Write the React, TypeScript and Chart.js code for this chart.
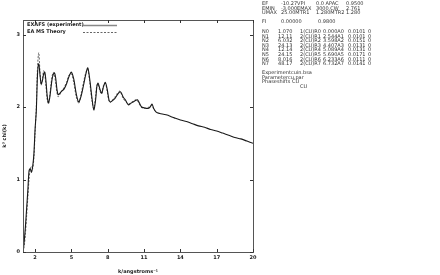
import React, { useEffect, useRef } from "react";
import { Chart, registerables } from "chart.js";

Chart.register(...registerables);

// ---- data ----
const kExp = [1.0, 1.1, 1.2, 1.3, 1.4, 1.5, 1.6, 1.7, 1.8, 1.9, 2.0, 2.1, 2.2, 2.3, 2.4, 2.5, 2.6, 2.7, 2.8, 2.9, 3.0, 3.1, 3.2, 3.3, 3.4, 3.5, 3.6, 3.7, 3.8, 3.9, 4.0, 4.2, 4.4, 4.6, 4.8, 5.0, 5.2, 5.4, 5.6, 5.8, 6.0, 6.2, 6.35, 6.5, 6.7, 6.85, 7.0, 7.1, 7.2, 7.35, 7.5, 7.65, 7.8, 7.95, 8.1, 8.2, 8.4, 8.6, 8.8, 9.0, 9.1, 9.3, 9.45, 9.7, 9.9, 10.1, 10.3, 10.45, 10.6, 10.8, 11.0, 11.3, 11.5, 11.65, 11.8, 12.0, 12.3, 12.6, 12.9, 13.2, 13.5, 14.0, 14.5, 15.0, 15.5, 16.0, 16.5, 17.0, 17.5, 18.0, 18.5, 19.0, 19.5, 20.0];
const chiExp = [0.0, 0.15, 0.35, 0.6, 0.85, 1.12, 1.15, 1.1, 1.18, 1.35, 1.7, 1.95, 2.45, 2.6, 2.45, 2.32, 2.36, 2.45, 2.48, 2.35, 2.15, 2.06, 2.12, 2.25, 2.38, 2.45, 2.47, 2.4, 2.25, 2.17, 2.18, 2.22, 2.25, 2.32, 2.42, 2.48, 2.38, 2.18, 2.07, 2.15, 2.3, 2.46, 2.54, 2.4, 2.12, 1.96, 2.1, 2.28, 2.33, 2.25, 2.19, 2.28, 2.34, 2.25, 2.1, 2.07, 2.09, 2.12, 2.17, 2.21, 2.2, 2.13, 2.1, 2.03, 2.05, 2.07, 2.09, 2.1, 2.06, 2.0, 1.99, 1.98, 2.0, 2.04, 1.98, 1.93, 1.91, 1.9, 1.89, 1.87, 1.85, 1.82, 1.8, 1.77, 1.74, 1.72, 1.69, 1.67, 1.64, 1.61, 1.58, 1.56, 1.53, 1.5];

const kTh = [1.0, 1.1, 1.2, 1.3, 1.4, 1.5, 1.6, 1.7, 1.8, 1.9, 2.0, 2.1, 2.2, 2.3, 2.4, 2.5, 2.6, 2.7, 2.8, 2.9, 3.0, 3.1, 3.2, 3.3, 3.4, 3.5, 3.6, 3.7, 3.8, 3.9, 4.0, 4.2, 4.4, 4.6, 4.8, 5.0, 5.2, 5.4, 5.6, 5.8, 6.0, 6.2, 6.35, 6.5, 6.7, 6.85, 7.0, 7.1, 7.2, 7.35, 7.5, 7.65, 7.8, 7.95, 8.1, 8.2, 8.4, 8.6, 8.8, 9.0, 9.1, 9.3, 9.45, 9.7, 9.9, 10.1, 10.3, 10.45, 10.6, 10.8, 11.0, 11.3, 11.5, 11.65, 11.8, 12.0];
const chiTh = [0.0, 0.08, 0.25, 0.5, 0.75, 1.0, 1.15, 1.18, 1.15, 1.3, 1.65, 2.0, 2.55, 2.75, 2.5, 2.3, 2.38, 2.5, 2.45, 2.28, 2.1, 2.04, 2.14, 2.3, 2.42, 2.48, 2.44, 2.33, 2.2, 2.14, 2.16, 2.22, 2.27, 2.34, 2.44, 2.46, 2.33, 2.14, 2.05, 2.18, 2.34, 2.48, 2.52, 2.36, 2.08, 1.98, 2.15, 2.3, 2.32, 2.22, 2.18, 2.3, 2.33, 2.22, 2.08, 2.06, 2.1, 2.14, 2.19, 2.22, 2.19, 2.11, 2.08, 2.04, 2.06, 2.08, 2.1, 2.09, 2.04, 1.99, 1.98, 1.99, 2.01, 2.02, 1.97, 1.93];

const xTicks = [2, 5, 8, 11, 14, 17, 20];
const yTicks = [0, 1, 2, 3];
const seriesLabels = ["EXAFS (experiment)", "EA MS Theory"];

const headerRows = [
  ["EF", "-10.27VPI", "0.0 APAC", "0.9500"],
  ["EMIN", "-3.000EMAX", "3000.CW", "2.761"],
  ["UMAX", "25.00MTR1", "1.280MTR2", "1.280"],
];
const fiRow = ["FI", "0.00000", "0.9800"];
const shellNames = ["N0", "N1", "N2", "N3", "N4", "N5", "N6", "N7"];
const shellN = ["1.070", "12.11", "6.032", "24.13", "12.14", "24.15", "8.016", "48.17"];
const shellAtom = ["1(CU)", "2(CU)", "2(CU)", "2(CU)", "2(CU)", "2(CU)", "2(CU)", "2(CU)"];
const shellR = ["0.000", "2.544", "3.598", "4.407", "5.089", "5.690", "6.233", "6.732"];
const shellA = ["0.0101", "0.0101", "0.0151", "0.0131", "0.0131", "0.0171", "0.0111", "0.0141"];
const fileRows = ["Experimentcuin.bsa", "Parametercu.par", "Phaseshifts CU"];

const FONT = "'DejaVu Sans', sans-serif";

const framePlugin = {
  id: "frameTicks",
  afterDraw(chart: any) {
    const { ctx, chartArea: a, scales } = chart;
    const xs = scales.x;
    const ys = scales.y;
    ctx.save();
    ctx.strokeStyle = "#555";
    ctx.lineWidth = 1;
    ctx.strokeRect(a.left + 0.5, a.top + 0.5, a.right - a.left, a.bottom - a.top);
    ctx.strokeStyle = "#333";
    const L = 3;
    xTicks.forEach((v) => {
      const px = Math.round(xs.getPixelForValue(v)) + 0.5;
      ctx.beginPath();
      ctx.moveTo(px, a.bottom);
      ctx.lineTo(px, a.bottom - L);
      ctx.moveTo(px, a.top);
      ctx.lineTo(px, a.top + L);
      ctx.stroke();
    });
    yTicks.forEach((v) => {
      const py = Math.round(ys.getPixelForValue(v)) + 0.5;
      ctx.beginPath();
      ctx.moveTo(a.left, py);
      ctx.lineTo(a.left + L, py);
      ctx.moveTo(a.right, py);
      ctx.lineTo(a.right - L, py);
      ctx.stroke();
    });
    // legend
    const dsets = chart.data.datasets;
    ctx.font = "bold 5px " + FONT;
    ctx.fillStyle = "#222";
    ctx.textBaseline = "middle";
    dsets.forEach((d: any, i: number) => {
      const y = a.top + 5 + i * 7;
      ctx.fillText(d.label, a.left + 4, y);
      ctx.beginPath();
      ctx.strokeStyle = i === 0 ? "#888" : "#666";
      ctx.lineWidth = i === 0 ? 1.5 : 1;
      ctx.setLineDash(d.borderDash || []);
      ctx.moveTo(a.left + 60, y + 0.5);
      ctx.lineTo(a.left + 94, y + 0.5);
      ctx.stroke();
      ctx.setLineDash([]);
    });
    ctx.restore();
  },
};

function ChartCanvas() {
  const ref = useRef<HTMLCanvasElement | null>(null);
  useEffect(() => {
    if (!ref.current) return;
    const chart = new Chart(ref.current, {
      type: "line",
      data: {
        datasets: [
          {
            label: seriesLabels[0],
            data: kExp.map((k, i) => ({ x: k, y: chiExp[i] })),
            borderColor: "#1a1a1a",
            borderWidth: 1.1,
            pointRadius: 0,
            tension: 0.3,
            fill: false,
          },
          {
            label: seriesLabels[1],
            data: kTh.map((k, i) => ({ x: k, y: chiTh[i] })),
            borderColor: "#666",
            borderWidth: 1,
            borderDash: [2, 1.5],
            pointRadius: 0,
            tension: 0.3,
            fill: false,
          },
        ],
      },
      options: {
        responsive: false,
        animation: false,
        layout: { padding: { left: 0, top: 20, right: 9, bottom: 0 } },
        plugins: { legend: { display: false }, tooltip: { enabled: false } },
        scales: {
          x: {
            type: "linear",
            min: 1,
            max: 20,
            grid: { display: false, drawTicks: false },
            border: { display: false },
            afterBuildTicks: (s: any) => {
              s.ticks = xTicks.map((v) => ({ value: v }));
            },
            afterFit: (s: any) => {
              s.height = 23;
            },
            ticks: {
              padding: 3,
              color: "#222",
              font: { family: FONT, size: 5, weight: "bold" },
              maxRotation: 0,
              autoSkip: false,
            },
            title: {
              display: true,
              text: "k/angstroms⁻¹",
              color: "#222",
              font: { family: FONT, size: 5, weight: "bold" },
              padding: { top: 1, bottom: 0 },
            },
          },
          y: {
            type: "linear",
            min: 0,
            max: 3.2,
            grid: { display: false, drawTicks: false },
            border: { display: false },
            afterBuildTicks: (s: any) => {
              s.ticks = yTicks.map((v) => ({ value: v }));
            },
            afterFit: (s: any) => {
              s.width = 23;
            },
            ticks: {
              padding: 3,
              color: "#222",
              font: { family: FONT, size: 5, weight: "bold" },
              autoSkip: false,
            },
            title: {
              display: true,
              text: "k³ chi(k)",
              color: "#222",
              font: { family: FONT, size: 5, weight: "bold" },
              padding: { top: 2, bottom: 0 },
            },
          },
        },
      },
      plugins: [framePlugin],
    });
    return () => chart.destroy();
  }, []);
  return <canvas ref={ref} width={262} height={275} style={{ position: "absolute", left: 0, top: 0, width: 262, height: 275 }} />;
}

const txt: React.CSSProperties = {
  position: "absolute",
  fontFamily: FONT,
  fontSize: "5px",
  color: "#333",
  whiteSpace: "pre",
  lineHeight: "5px",
};

export default function App() {
  const lh = 4.6;
  const hdrX = [262, 281, 316, 346];
  const nX = [262, 278, 300, 323, 348, 368];
  const items: React.ReactNode[] = [];
  headerRows.forEach((row, r) => {
    row.forEach((c, j) => {
      items.push(
        <span key={`h${r}-${j}`} style={{ ...txt, left: hdrX[j], top: 1 + r * lh }}>
          {c}
        </span>
      );
    });
  });
  [262, 281, 318].forEach((x, j) => {
    items.push(
      <span key={`fi${j}`} style={{ ...txt, left: x, top: 19 }}>
        {fiRow[j]}
      </span>
    );
  });
  shellNames.forEach((n, r) => {
    const top = 29 + r * lh;
    const cells = [n, shellN[r], shellAtom[r] + "R" + r, shellR[r] + "A" + r, shellA[r], "0"];
    cells.forEach((c, j) => {
      items.push(
        <span key={`n${r}-${j}`} style={{ ...txt, left: nX[j], top }}>
          {c}
        </span>
      );
    });
  });
  fileRows.forEach((f, r) => {
    items.push(
      <span key={`f${r}`} style={{ ...txt, left: 262, top: 70 + r * lh }}>
        {f}
      </span>
    );
  });
  items.push(
    <span key="cu2" style={{ ...txt, left: 300, top: 70 + 3 * lh }}>
      CU
    </span>
  );
  return (
    <div style={{ position: "fixed", left: 0, top: 0, width: 440, height: 275, background: "#fff", overflow: "hidden" }}>
      <ChartCanvas />
      <div style={{ position: "absolute", left: 0, top: 0, width: 440, height: 275, willChange: "transform", opacity: 0.999 }}>
        {items}
      </div>
    </div>
  );
}
